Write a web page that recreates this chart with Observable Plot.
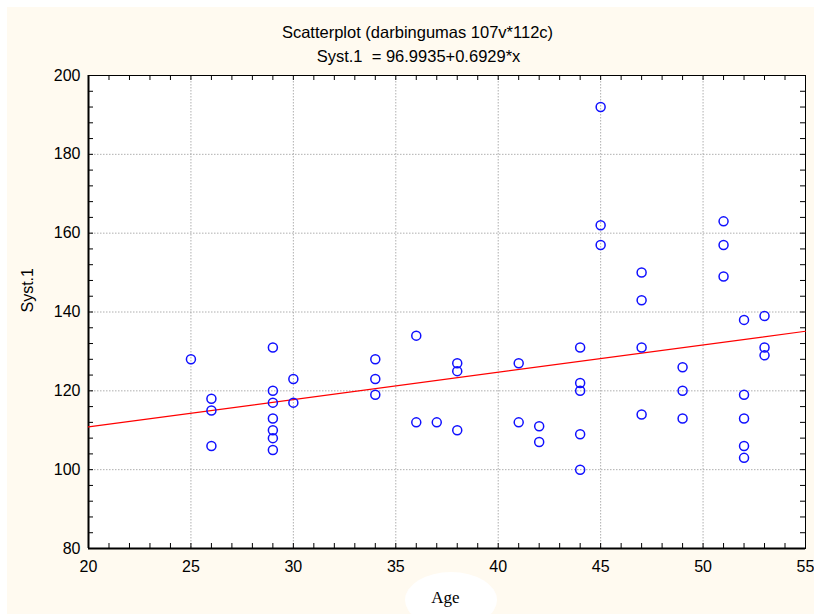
<!DOCTYPE html>
<html>
<head>
<meta charset="utf-8">
<script src="https://cdn.jsdelivr.net/npm/d3@7"></script>
<script src="https://cdn.jsdelivr.net/npm/@observablehq/plot@0.6"></script>
<style>
  html, body { margin: 0; padding: 0; background: #ffffff; }
  #wrap { position: relative; width: 814px; height: 614px; overflow: hidden; }
  #bg { position: absolute; left: 7px; top: 7px; right: 0; bottom: 0; background: #fffaf0; }
  #blob { position: absolute; left: 405px; top: 572px; width: 92px; height: 56px; border-radius: 50%; background: #ffffff; }
  #chart { position: absolute; left: 0; top: 0; }
</style>
</head>
<body>
<div id="wrap"><div id="bg"></div><div id="blob"></div><div id="chart"></div></div>
<script>
// Data
const age = [25, 26,26,26, 29,29,29,29,29,29,29, 30,30, 34,34,34, 36,36, 37, 38,38,38, 41,41, 42,42,
             44,44,44,44,44, 45,45,45, 47,47,47,47, 49,49,49, 51,51,51, 52,52,52,52,52, 53,53,53];
const syst = [128, 118,115,106, 131,120,117,113,110,108,105, 123,117, 128,123,119, 134,112, 112, 127,125,110, 127,112, 111,107,
              131,122,120,109,100, 192,162,157, 150,143,131,114, 126,120,113, 163,157,149, 138,119,113,106,103, 139,131,129];
const fitX = [20, 55];
const fitY = [110.85, 135.11]; // Syst.1 = 96.9935 + 0.6929*x at the plot edges
const xTicks = [20, 25, 30, 35, 40, 45, 50, 55];
const yTicks = [80, 100, 120, 140, 160, 180, 200];
const xMinor = d3.range(20, 56, 1);
const yMinor = d3.range(80, 201, 4);
const titleText = "Scatterplot (darbingumas 107v*112c)";
const subtitleText = "Syst.1  = 96.9935+0.6929*x";
const xLabel = "Age";
const yLabel = "Syst.1";

const points = age.map((a, i) => ({age: a, syst: syst[i]}));
const fit = fitX.map((x, i) => ({x, y: fitY[i]}));

const W = 814, H = 614, mL = 88, mR = 9, mT = 75, mB = 66;
const pw = W - mL - mR, ph = H - mT - mB;
const sans = "'Liberation Sans', Arial, Helvetica, sans-serif";

const chart = Plot.plot({
  width: W, height: H,
  marginLeft: mL, marginRight: mR, marginTop: mT, marginBottom: mB,
  style: {background: "transparent", fontFamily: sans, fontSize: "16px", color: "#000"},
  x: {domain: [20, 55]},
  y: {domain: [80, 200]},
  marks: [
    Plot.frame({fill: "#ffffff", stroke: null}),
    Plot.gridX(xTicks.slice(1, -1), {stroke: "#9a9a9a", strokeOpacity: 1, strokeWidth: 0.8, strokeDasharray: "1.5,1.5"}),
    Plot.gridY(yTicks.slice(1, -1), {stroke: "#9a9a9a", strokeOpacity: 1, strokeWidth: 0.8, strokeDasharray: "1.5,1.5"}),
    // inward minor/major ticks on all four sides
    Plot.tickX(xMinor, {x: d => d, insetTop: ph - 5, stroke: "#000", strokeWidth: 1}),
    Plot.tickX(xMinor, {x: d => d, insetBottom: ph - 5, stroke: "#000", strokeWidth: 1}),
    Plot.tickY(yMinor, {y: d => d, insetRight: pw - 5, stroke: "#000", strokeWidth: 1}),
    Plot.tickY(yMinor, {y: d => d, insetLeft: pw - 5, stroke: "#000", strokeWidth: 1}),
    Plot.frame({stroke: "#000", strokeWidth: 1}),
    Plot.ruleX([20], {stroke: "#000", strokeWidth: 2}),
    Plot.ruleY([80], {stroke: "#000", strokeWidth: 2}),
    Plot.axisX(xTicks, {anchor: "bottom", tickSize: 0, tickPadding: 12, label: null, fontSize: 16}),
    Plot.axisY(yTicks, {anchor: "left", tickSize: 0, tickPadding: 8, label: null, fontSize: 16}),
    Plot.line(fit, {x: "x", y: "y", stroke: "#ff0000", strokeWidth: 1.2}),
    Plot.dot(points, {x: "age", y: "syst", r: 4.5, stroke: "#1010ff", strokeWidth: 1.5, fill: "none"}),
    Plot.text([titleText], {frameAnchor: "top", dx: 417 - (mL + pw / 2), dy: 32 - mT, fontSize: 16.5, lineAnchor: "middle", fill: "#000"}),
    Plot.text([subtitleText], {frameAnchor: "top", dx: 418 - (mL + pw / 2), dy: 56 - mT, fontSize: 16.5, lineAnchor: "middle", fill: "#000"}),
    Plot.text([xLabel], {frameAnchor: "bottom", dx: 445 - (mL + pw / 2), dy: 597 - (mT + ph), fontSize: 17, lineAnchor: "middle", fontFamily: "'Liberation Serif', 'Times New Roman', serif", fill: "#000"}),
    Plot.text([yLabel], {frameAnchor: "left", dx: 27 - mL, dy: 312 - (mT + ph / 2), rotate: -90, fontSize: 16, lineAnchor: "middle", fill: "#000"})
  ]
});
document.getElementById("chart").appendChild(chart);
</script>
</body>
</html>
